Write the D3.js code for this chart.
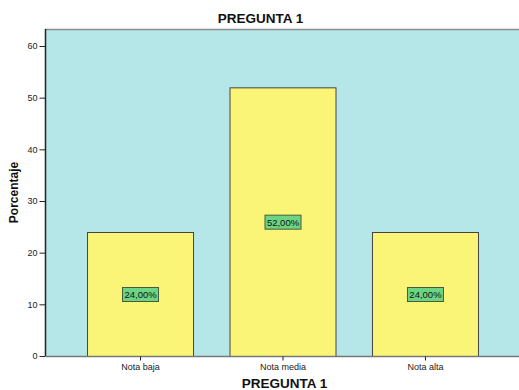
<!DOCTYPE html>
<html>
<head>
<meta charset="utf-8">
<script src="https://cdn.jsdelivr.net/npm/d3@7"></script>
<style>
  html, body { margin: 0; padding: 0; background: #fff; }
  svg { display: block; font-family: Arial, "Liberation Sans", sans-serif; }
</style>
</head>
<body>
<svg id="chart" width="519" height="390"></svg>
<script>
// Distribution of answers to question 1
const categories = ["Nota baja", "Nota media", "Nota alta"];
const percentages = [24, 52, 24];
const yTicks = [0, 10, 20, 30, 40, 50, 60];
const chartTitle = "PREGUNTA 1";
const xTitle = "PREGUNTA 1";
const yTitle = "Porcentaje";

const W = 519, H = 390;
const plot = { left: 45, right: 520, top: 29, bottom: 356 };

const svg = d3.select("#chart");

const y = d3.scaleLinear()
  .domain([0, 60])
  .range([plot.bottom, plot.bottom - 310]);

const x = d3.scaleBand()
  .domain(categories)
  .range([plot.left, plot.right])
  .paddingInner(0.256)
  .paddingOuter(0.295);

// plot background
svg.append("rect")
  .attr("x", plot.left)
  .attr("y", plot.top)
  .attr("width", plot.right - plot.left)
  .attr("height", plot.bottom - plot.top)
  .attr("fill", "#b5e6e8");

// top frame line
svg.append("line")
  .attr("x1", plot.left).attr("x2", plot.right)
  .attr("y1", plot.top + 0.5).attr("y2", plot.top + 0.5)
  .attr("stroke", "#8c8c8c").attr("stroke-width", 1.5);

// bars
svg.append("g").selectAll("rect")
  .data(percentages)
  .join("rect")
  .attr("x", (d, i) => x(categories[i]) + 0.5)
  .attr("y", d => y(d) + 0.5)
  .attr("width", x.bandwidth())
  .attr("height", d => plot.bottom - y(d))
  .attr("fill", "#fbf577")
  .attr("stroke", "#444")
  .attr("stroke-width", 1);

// value labels
const fmt = v => d3.format(".2f")(v).replace(".", ",") + "%";
const lbl = svg.append("g").selectAll("g")
  .data(percentages)
  .join("g")
  .attr("transform", (d, i) => `translate(${x(categories[i]) + x.bandwidth() / 2 + 0.5},${y(d / 2) + 0.5})`);
lbl.append("rect")
  .attr("x", -18).attr("y", -7)
  .attr("width", 36).attr("height", 14)
  .attr("fill", "#6cd584")
  .attr("stroke", "#4a5a3a")
  .attr("stroke-width", 1);
lbl.append("text")
  .attr("text-anchor", "middle")
  .attr("dy", "0.36em")
  .attr("font-size", 9.5)
  .attr("fill", "#111")
  .text(d => fmt(d));

// y axis
const yAxis = svg.append("g")
  .attr("transform", `translate(${plot.left + 0.5},0)`)
  .call(d3.axisLeft(y).tickValues(yTicks).tickSize(6).tickPadding(2));
yAxis.select(".domain")
  .attr("d", `M0,${plot.top}V${plot.bottom}`)
  .attr("stroke", "#222").attr("stroke-width", 1.5);
yAxis.selectAll(".tick line").attr("stroke", "#222");
yAxis.selectAll(".tick text")
  .attr("font-size", 9).attr("fill", "#222")
  .attr("font-family", "Arial, 'Liberation Sans', sans-serif");

// x axis
const xAxis = svg.append("g")
  .attr("transform", `translate(0.5,${plot.bottom + 0.5})`)
  .call(d3.axisBottom(x).tickSize(4).tickPadding(3));
xAxis.select(".domain")
  .attr("d", `M${plot.left},0H${plot.right}`)
  .attr("stroke", "#777").attr("stroke-width", 1.5);
xAxis.selectAll(".tick line").attr("stroke", "#222");
xAxis.selectAll(".tick text")
  .attr("font-size", 9).attr("fill", "#222")
  .attr("font-family", "Arial, 'Liberation Sans', sans-serif");

// titles
svg.append("text")
  .attr("x", 260.5).attr("y", 23)
  .attr("text-anchor", "middle")
  .attr("font-size", 13.5).attr("font-weight", "bold")
  .attr("fill", "#111")
  .text(chartTitle);

svg.append("text")
  .attr("x", 284.5).attr("y", 388)
  .attr("text-anchor", "middle")
  .attr("font-size", 13.5).attr("font-weight", "bold")
  .attr("fill", "#111")
  .text(xTitle);

svg.append("text")
  .attr("transform", `translate(18,${(plot.top + plot.bottom) / 2}) rotate(-90)`)
  .attr("text-anchor", "middle")
  .attr("font-size", 12).attr("font-weight", "bold")
  .attr("fill", "#111")
  .text(yTitle);
</script>
</body>
</html>
